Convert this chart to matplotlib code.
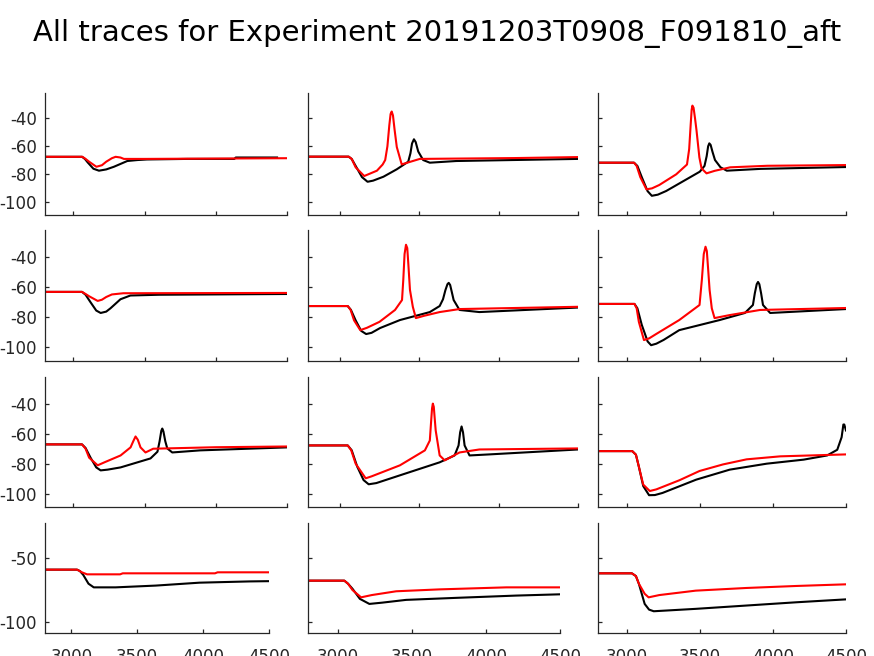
import matplotlib
matplotlib.use("Agg")
import matplotlib.pyplot as plt

plt.rcParams["axes.unicode_minus"] = False

# time (ms) and membrane potential (mV), per panel
# row 1
t11_k = [2805, 3060, 3080, 3100, 3140, 3179, 3230, 3284, 3378, 3450, 3517, 3800, 4130, 4140, 4430]
v11_k = [-67.5, -67.5, -69, -71.5, -76, -77.4, -76.5, -74.6, -70.5, -69.8, -69.4, -69, -69, -68, -68]
t11_r = [2805, 3063, 3085, 3110, 3161, 3200, 3230, 3270, 3296, 3330, 3354, 3500, 4500]
v11_r = [-67.5, -67.5, -69, -71, -74.6, -73.5, -71, -68.5, -67.5, -68, -69, -69, -68.5]

t12_k = [2805, 3056, 3075, 3100, 3140, 3175, 3210, 3275, 3359, 3431, 3445, 3455, 3467, 3478, 3494, 3525, 3567, 3734, 4500]
v12_k = [-67.4, -67.4, -69, -74, -82, -85.3, -84.5, -81.7, -76.4, -71, -65, -58, -55, -57, -63.7, -69.8, -71.7, -70.5, -69]
t12_r = [2805, 3056, 3075, 3100, 3154, 3234, 3270, 3286, 3300, 3312, 3320, 3327, 3335, 3345, 3359, 3390, 3504, 4100, 4500]
v12_r = [-67.4, -67.4, -69, -75, -81.2, -77.4, -73, -69.8, -60, -45, -37, -35.2, -38, -48, -60.5, -72.9, -69, -68.4, -67.7]

t13_k = [2805, 3047, 3070, 3100, 3140, 3169, 3210, 3267, 3359, 3498, 3530, 3545, 3555, 3563, 3572, 3585, 3602, 3640, 3683, 3915, 4500]
v13_k = [-71.7, -71.7, -74, -82, -92, -95.3, -94.5, -91.9, -86.4, -78.1, -74, -67, -60, -57.9, -59, -64, -69.8, -75, -77.4, -76.1, -74.8]
t13_r = [2805, 3047, 3065, 3090, 3132, 3170, 3220, 3336, 3410, 3425, 3435, 3442, 3447, 3455, 3465, 3475, 3495, 3510, 3544, 3600, 3706, 3961, 4500]
v13_r = [-71.7, -71.7, -74, -82, -90.7, -90, -87.6, -80, -73, -62, -45, -34, -31, -32.5, -40, -48.4, -68, -75.8, -79.3, -77.5, -75, -73.9, -73.4]

# row 2
t21_k = [2805, 3060, 3085, 3120, 3160, 3191, 3230, 3260, 3330, 3400, 3600, 4500]
v21_k = [-63.1, -63.1, -65, -70, -75.5, -77.1, -76.2, -74, -68, -65.5, -65, -64.5]
t21_r = [2805, 3060, 3085, 3110, 3170, 3200, 3230, 3270, 3350, 4500]
v21_r = [-63.1, -63.1, -64.5, -66, -69.1, -68.3, -66.5, -64.8, -64, -63.8]

t22_k = [2805, 3050, 3070, 3100, 3135, 3166, 3200, 3254, 3379, 3567, 3629, 3650, 3665, 3678, 3686, 3695, 3705, 3717, 3754, 3879, 4500]
v22_k = [-72.5, -72.5, -75, -82, -89, -91.1, -90.3, -87.1, -81.8, -76.5, -72.5, -68, -62, -58, -57.1, -58.5, -63, -68.5, -75.1, -76.5, -73.5]
t22_r = [2805, 3050, 3068, 3090, 3129, 3170, 3250, 3348, 3392, 3400, 3408, 3417, 3425, 3432, 3442, 3460, 3479, 3530, 3629, 3754, 4500]
v22_r = [-72.5, -72.5, -75, -82, -88.5, -87, -83, -75.1, -68.5, -55, -38, -31.8, -34, -45, -61.8, -73, -80.5, -79, -76.5, -74.5, -73]

t23_k = [2805, 3050, 3070, 3100, 3140, 3164, 3200, 3250, 3357, 3634, 3807, 3862, 3875, 3888, 3897, 3906, 3918, 3931, 3980, 4500]
v23_k = [-71.1, -71.1, -74, -85, -96, -98.5, -97.5, -95, -88.5, -81.8, -77.1, -71.8, -64, -58, -56.5, -58, -64, -71.8, -77.1, -74.5]
t23_r = [2805, 3050, 3065, 3080, 3115, 3150, 3200, 3357, 3496, 3512, 3525, 3537, 3546, 3555, 3565, 3580, 3599, 3703, 3911, 4500]
v23_r = [-71.1, -71.1, -74, -83, -95.1, -94, -91, -81.8, -71.8, -55, -38, -33.1, -36, -48, -61.8, -74, -80.5, -78.5, -75.1, -73.8]

# row 3
t31_k = [2805, 3060, 3085, 3120, 3160, 3191, 3240, 3331, 3541, 3590, 3605, 3617, 3624, 3632, 3645, 3659, 3694, 3890, 4500]
v31_k = [-67.1, -67.1, -69.5, -76, -82.5, -84.5, -84, -82.5, -76.5, -72, -65, -58, -56.5, -58.5, -65, -69.8, -72.5, -71.1, -69.1]
t31_r = [2805, 3060, 3085, 3110, 3170, 3220, 3331, 3401, 3420, 3436, 3452, 3471, 3506, 3560, 4000, 4500]
v31_r = [-67.1, -67.1, -70, -76, -81.1, -79, -74.5, -69.1, -65, -61.8, -64, -69.1, -72.5, -70, -69, -68.5]

t32_k = [2805, 3050, 3075, 3110, 3150, 3182, 3230, 3379, 3629, 3723, 3748, 3758, 3767, 3776, 3786, 3817, 3942, 4500]
v32_k = [-67.8, -67.8, -71, -82, -91, -93.8, -93, -87.8, -79.1, -74.5, -67.8, -59, -55.1, -59, -67.8, -74.5, -73.8, -70.5]
t32_r = [2805, 3050, 3072, 3100, 3163, 3200, 3379, 3536, 3567, 3575, 3581, 3586, 3592, 3598, 3604, 3629, 3661, 3754, 3879, 4500]
v32_r = [-67.8, -67.8, -71, -80, -89.8, -88.5, -81.1, -71.1, -64.5, -52, -43, -39.8, -42, -50, -57.8, -74.5, -77.8, -72.5, -70.5, -69.8]

t33_k = [2805, 3035, 3060, 3080, 3110, 3150, 3190, 3242, 3473, 3703, 3957, 4210, 4371, 4440, 4470, 4482, 4488, 4500]
v33_k = [-71.6, -71.6, -74, -82, -95, -101.1, -101, -99.6, -90.7, -84, -80, -77.3, -74.5, -70.7, -62.3, -53.8, -53.8, -57.8]
t33_r = [2805, 3035, 3060, 3080, 3110, 3155, 3200, 3358, 3496, 3657, 3819, 4049, 4500]
v33_r = [-71.6, -71.6, -74, -82, -94, -98.3, -97.2, -91.1, -84.9, -80.5, -77.1, -75.1, -73.8]

# row 4
t41_k = [2805, 3043, 3065, 3090, 3130, 3170, 3336, 3641, 3972, 4354, 4500]
v41_k = [-58.9, -58.9, -60, -63, -70, -72.9, -72.9, -71.5, -69.2, -68.2, -68]
t41_r = [2805, 3043, 3060, 3080, 3119, 3370, 3390, 4090, 4110, 4500]
v41_r = [-58.9, -58.9, -59.8, -61, -62.6, -62.6, -61.8, -61.8, -61, -61]

t42_k = [2805, 3045, 3070, 3100, 3150, 3214, 3300, 3462, 3800, 4205, 4500]
v42_k = [-67.6, -67.6, -70, -74, -82, -86, -85, -82.8, -81.2, -79.4, -78.4]
t42_r = [2805, 3045, 3070, 3100, 3158, 3230, 3395, 3687, 4138, 4500]
v42_r = [-67.6, -67.6, -70, -75, -80.8, -79, -76, -74.5, -72.9, -72.9]

t43_k = [2805, 3032, 3060, 3080, 3120, 3150, 3182, 3470, 3815, 4160, 4500]
v43_k = [-61.8, -61.8, -64, -70, -86, -90.5, -91.8, -89.9, -87.3, -84.7, -82.4]
t43_r = [2805, 3032, 3060, 3080, 3120, 3147, 3220, 3470, 3815, 4160, 4500]
v43_r = [-61.8, -61.8, -64, -70, -78, -80.8, -79, -75.5, -73.4, -71.8, -70.5]

traces = [
    [(t11_k, v11_k, t11_r, v11_r), (t12_k, v12_k, t12_r, v12_r), (t13_k, v13_k, t13_r, v13_r)],
    [(t21_k, v21_k, t21_r, v21_r), (t22_k, v22_k, t22_r, v22_r), (t23_k, v23_k, t23_r, v23_r)],
    [(t31_k, v31_k, t31_r, v31_r), (t32_k, v32_k, t32_r, v32_r), (t33_k, v33_k, t33_r, v33_r)],
    [(t41_k, v41_k, t41_r, v41_r), (t42_k, v42_k, t42_r, v42_r), (t43_k, v43_k, t43_r, v43_r)],
]

xticks = [3000, 3500, 4000, 4500]
yticks_top = [-40, -60, -80, -100]
yticks_bottom = [-50, -100]

W, H = 874, 656
fig = plt.figure(figsize=(W / 100, H / 100), dpi=100)

# panel boxes in pixels: (top, bottom) per row, (left, right) per column
rows_px = [(93, 215), (230, 361), (377, 507), (523, 633)]
cols_px = [(45, 287), (308, 578), (598, 846)]
cols_px_last = [(45, 269), (308, 560), (598, 846)]

grey = "#262626"
for i in range(4):
    for j in range(3):
        top, bot = rows_px[i]
        left, right = (cols_px_last if i == 3 else cols_px)[j]
        ax = fig.add_axes([left / W, 1 - bot / H, (right - left) / W, (bot - top) / H])
        tk, vk, tr, vr = traces[i][j]
        ax.plot(tk, vk, color="black", lw=1.5)
        ax.plot(tr, vr, color="red", lw=1.5)
        ax.set_xlim(2800, 4500)
        ax.set_ylim(-109, -22)
        ax.set_xticks(xticks)
        ax.set_yticks(yticks_bottom if i == 3 else yticks_top)
        for s in ["top", "right"]:
            ax.spines[s].set_visible(False)
        for s in ["left", "bottom"]:
            ax.spines[s].set_color(grey)
            ax.spines[s].set_linewidth(0.9)
        ax.tick_params(direction="in", length=3, width=0.9, color=grey,
                       labelcolor=grey, labelsize=12)
        ax.tick_params(axis="x", pad=11)
        ax.tick_params(axis="y", pad=6)
        if j != 0:
            ax.set_yticklabels([])
        if i != 3:
            ax.set_xticklabels([])

fig.text(0.5, 1 - 34 / H, "All traces for Experiment 20191203T0908_F091810_aft",
         ha="center", va="center", fontsize=21)

fig.savefig("out.png", dpi=100)
